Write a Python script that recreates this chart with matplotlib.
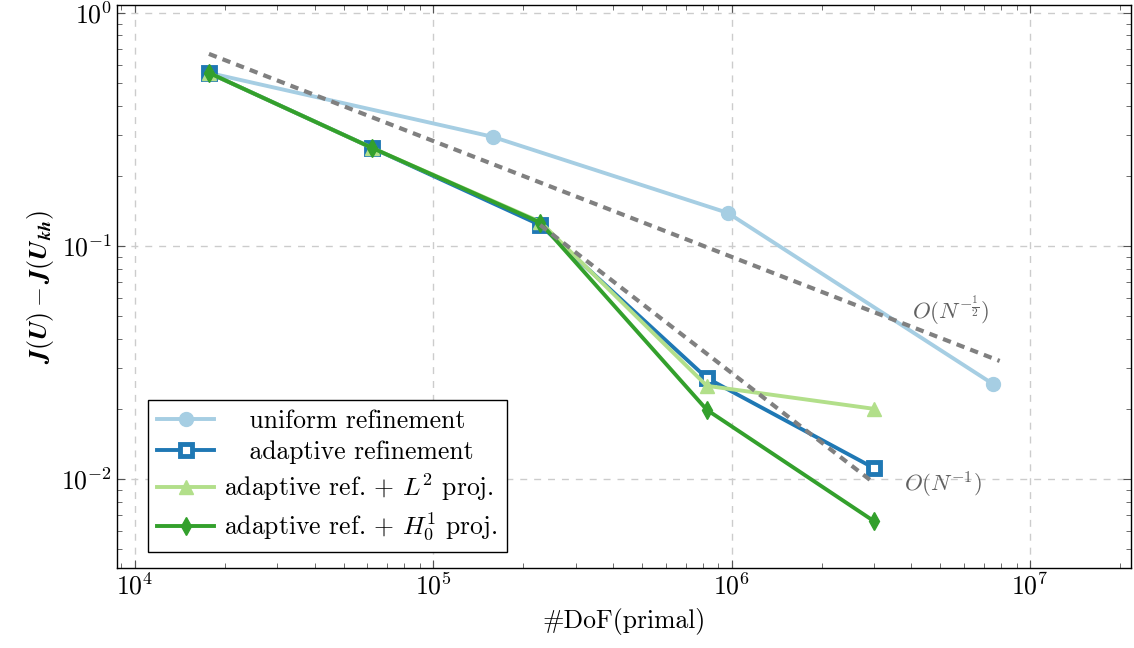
import matplotlib
matplotlib.use("Agg")
import matplotlib.pyplot as plt
import numpy as np

plt.rcParams['font.family'] = 'serif'
plt.rcParams['font.serif'] = ['cmr10']
plt.rcParams['mathtext.fontset'] = 'cm'
plt.rcParams['axes.formatter.use_mathtext'] = True
plt.rcParams['font.size'] = 18.5

# data
dof_uniform = [1.77e4, 1.58e5, 9.7e5, 7.49e6]
err_uniform = [0.553, 0.294, 0.1386, 0.0256]

dof_adaptive = [1.77e4, 6.25e4, 2.28e5, 8.25e5, 2.99e6]
err_adaptive = [0.553, 0.263, 0.123, 0.0271, 0.01115]
err_l2 = [0.553, 0.263, 0.127, 0.0251, 0.0200]
err_h1 = [0.553, 0.263, 0.126, 0.0198, 0.0066]

ref_half_x = [1.77e4, 7.9e6]
ref_half_y = [0.667, 0.0321]
ref_one_x = [2.28e5, 3.0e6]
ref_one_y = [0.123, 0.0096]

c_uni = '#a6cee3'
c_ada = '#1f78b4'
c_l2 = '#b2df8a'
c_h1 = '#33a02c'

fig = plt.figure(figsize=(11.34, 6.48), dpi=100)
ax = fig.add_axes([0.1032, 0.1235, 0.8942, 0.8688])

ax.plot(dof_uniform, err_uniform, color=c_uni, lw=2.8, marker='o', ms=10,
        label='   uniform refinement', zorder=3)
ax.plot(dof_adaptive, err_adaptive, color=c_ada, lw=2.8, marker='s', ms=9,
        mfc='white', mec=c_ada, mew=3.5, label='   adaptive refinement', zorder=3)
ax.plot(dof_adaptive, err_l2, color=c_l2, lw=2.8, marker='^', ms=10,
        label=r'adaptive ref. + $L^2$ proj.', zorder=3)
ax.plot(dof_adaptive, err_h1, color=c_h1, lw=2.8, marker='d', ms=9,
        label=r'adaptive ref. + $H^1_0$ proj.', zorder=3)

ax.plot(ref_half_x, ref_half_y, color='#808080', lw=3, ls=(0, (2, 1.5)), zorder=4)
ax.plot(ref_one_x, ref_one_y, color='#808080', lw=3, ls=(0, (2, 1.5)), zorder=4)

ax.text(5.4e6, 0.0525, r'$O(N^{-\frac{1}{2}})$', color='#606060', fontsize=16.5,
        ha='center', va='center')
ax.text(5.1e6, 0.0094, r'$O(N^{-1})$', color='#606060', fontsize=16.5,
        ha='center', va='center')

ax.set_xscale('log')
ax.set_yscale('log')
ax.set_xlim(10**3.94, 10**7.338)
ax.set_ylim(10**-2.382, 10**0.034)

ax.grid(True, which='major', ls=(0, (5, 5)), color='#cccccc', lw=1)
ax.tick_params(which='both', direction='in', top=True, right=True, color='#555555')
ax.tick_params(which='major', length=6)
ax.tick_params(which='minor', length=3.5)
for s in ax.spines.values():
    s.set_linewidth(1.0)

ax.set_xlabel('#DoF(primal)', labelpad=6)
ax.set_ylabel(r'$\boldsymbol{J}(\boldsymbol{U}) - \boldsymbol{J}(\boldsymbol{U}_{\boldsymbol{kh}})$')

leg = ax.legend(loc='lower left', bbox_to_anchor=(0.031, 0.028), borderaxespad=0,
                fancybox=False, edgecolor='black', framealpha=1, handlelength=2.2,
                borderpad=0.35, labelspacing=0.3, handletextpad=0.4)
leg.get_frame().set_linewidth(1.0)

fig.savefig('out.png', dpi=100)
